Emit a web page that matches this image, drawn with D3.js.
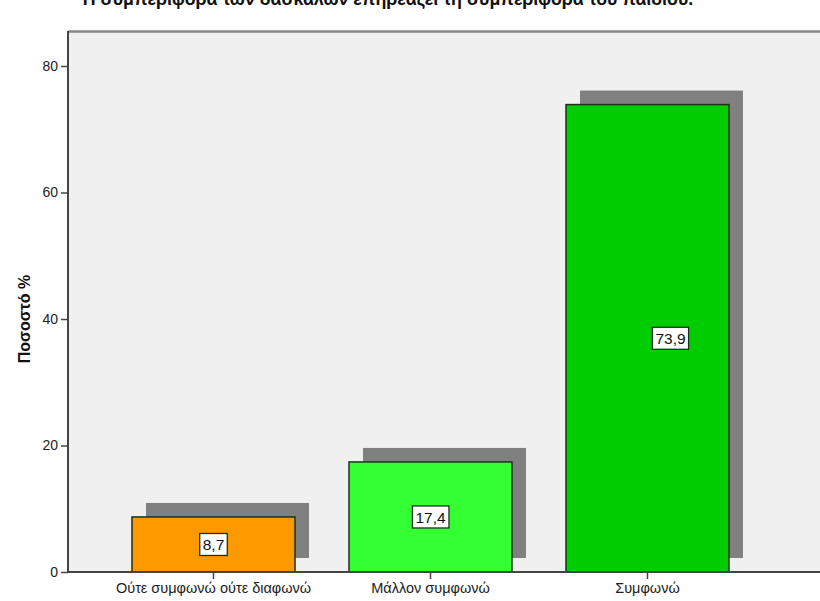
<!DOCTYPE html>
<html><head><meta charset="utf-8">
<script src="https://cdn.jsdelivr.net/npm/d3@7"></script>
<style>
html,body{margin:0;padding:0;background:#fff;}
svg{display:block;font-family:Arial,"Liberation Sans",sans-serif;}
</style></head>
<body>
<svg id="chart" width="820" height="601"></svg>
<script>
const categories = ["Ούτε συμφωνώ ούτε διαφωνώ", "Μάλλον συμφωνώ", "Συμφωνώ"];
const values = [8.7, 17.4, 73.9];
const valueLabels = ["8,7", "17,4", "73,9"];
const barColors = ["#ff9900", "#33ff33", "#00cc00"];
const yTicks = [0, 20, 40, 60, 80];
const titleText = "Η συμπεριφορά των δασκάλων επηρεάζει τη συμπεριφορά του παιδιού.";
const yTitle = "Ποσοστό %";

const svg = d3.select("#chart");
const plotLeft = 68, plotRight = 820, plotTop = 31, plotBottom = 572;
const FONT = "Arial,'Liberation Sans',sans-serif";

const y = d3.scaleLinear().domain([0, 80]).range([plotBottom, 66]);
const x = d3.scaleBand().domain(categories).range([68, 793]).paddingInner(0.2488).paddingOuter(0.295);

// plot background
svg.append("rect").attr("x", plotLeft).attr("y", plotTop)
  .attr("width", plotRight - plotLeft).attr("height", plotBottom - plotTop)
  .attr("fill", "#f0f0f0");
svg.append("line").attr("x1", plotLeft).attr("x2", plotRight)
  .attr("y1", plotTop + 0.5).attr("y2", plotTop + 0.5)
  .attr("stroke", "#888").attr("stroke-width", 2.5);

// title (clipped at top as in the original)
svg.append("text").attr("x", 388).attr("y", 5).attr("text-anchor", "middle")
  .attr("font-size", 17.8).attr("font-weight", "bold").attr("fill", "#111")
  .text(titleText);

const off = 14;
const data = categories.map((c, i) => ({c, v: values[i], label: valueLabels[i], color: barColors[i], i}));

// shadows
svg.append("g").selectAll("rect").data(data).join("rect")
  .attr("x", d => x(d.c) + off)
  .attr("y", d => y(d.v) - off)
  .attr("width", x.bandwidth())
  .attr("height", d => y(0) - y(d.v))
  .attr("fill", "#808080");

// bars
svg.append("g").selectAll("rect").data(data).join("rect")
  .attr("x", d => x(d.c))
  .attr("y", d => y(d.v))
  .attr("width", x.bandwidth())
  .attr("height", d => y(0) - y(d.v))
  .attr("fill", d => d.color)
  .attr("stroke", "#1a331a").attr("stroke-width", 1.5);

// value labels (the tallest bar's label sits right of centre in the original)
const lg = svg.append("g").selectAll("g").data(data).join("g")
  .attr("transform", d => `translate(${x(d.c) + x.bandwidth()/2 + (d.i === 2 ? 23 : 0)},${(y(d.v) + y(0))/2})`);
lg.append("text").attr("text-anchor", "middle").attr("dy", "0.36em")
  .attr("font-size", 15.5).attr("fill", "#111").text(d => d.label)
  .each(function() {
    const bb = this.getBBox();
    d3.select(this.parentNode).insert("rect", "text")
      .attr("x", bb.x - 3).attr("y", -11)
      .attr("width", bb.width + 6).attr("height", 22)
      .attr("fill", "#fff").attr("stroke", "#1a331a").attr("stroke-width", 1.3);
  });

// y axis
const yAxis = svg.append("g").attr("transform", `translate(${plotLeft},0)`)
  .call(d3.axisLeft(y).tickValues(yTicks).tickSize(7).tickPadding(3));
yAxis.select(".domain").attr("d", `M0,${plotTop}V${plotBottom}`).attr("stroke", "#444").attr("stroke-width", 2);
yAxis.selectAll(".tick line").attr("stroke", "#444").attr("stroke-width", 1.5);
yAxis.selectAll(".tick text").attr("font-size", 14).attr("fill", "#222").attr("font-family", FONT);

// x axis
const xAxis = svg.append("g").attr("transform", `translate(0,${plotBottom})`)
  .call(d3.axisBottom(x).tickSize(7).tickPadding(4));
xAxis.select(".domain").attr("d", `M${plotLeft},0H${plotRight}`).attr("stroke", "#444").attr("stroke-width", 2);
xAxis.selectAll(".tick line").attr("stroke", "#444").attr("stroke-width", 1.5);
xAxis.selectAll(".tick text").attr("font-size", 14.5).attr("fill", "#222").attr("font-family", FONT);

// y title
svg.append("text").attr("transform", `translate(24,${(plotBottom + 66)/2}) rotate(-90)`)
  .attr("text-anchor", "middle").attr("dy", "0.35em").attr("font-size", 16).attr("font-weight", "bold").attr("fill", "#111")
  .text(yTitle);
</script>
</body></html>
